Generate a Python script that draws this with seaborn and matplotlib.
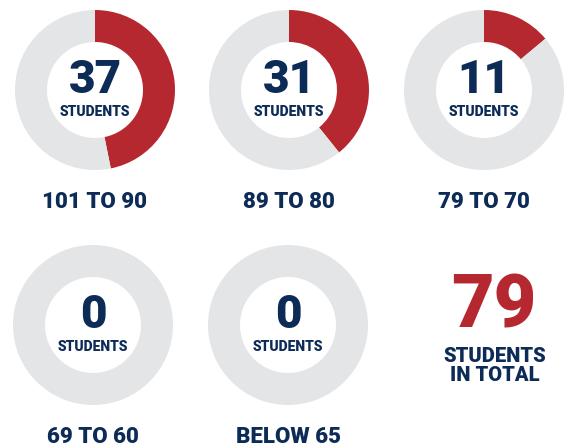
import numpy as np
import seaborn as sns
import matplotlib.pyplot as plt

sns.set_theme(style="white")
plt.rcParams["font.family"] = ["Roboto", "DejaVu Sans"]

# data
score_ranges = ["101 TO 90", "89 TO 80", "79 TO 70", "69 TO 60", "BELOW 65"]
student_counts = [37, 31, 11, 0, 0]
total_students = 79

RED = "#B6282F"
GREY = "#E4E5E7"
NAVY = "#0D2B57"

W, H = 570, 448
fig = plt.figure(figsize=(W / 100, H / 100), dpi=100)
fig.patch.set_facecolor("white")

# donut centres in pixels (x, y from top)
centres = [(95, 90), (289, 90), (484, 90), (93, 325), (288, 325)]
R = 80

for (cx, cy), label, n in zip(centres, score_ranges, student_counts):
    ax = fig.add_axes([(cx - R) / W, (H - cy - R) / H, 2 * R / W, 2 * R / H])
    vals = [n, total_students - n]
    ax.pie(vals, colors=[RED, GREY], startangle=90, counterclock=False,
           wedgeprops={"width": 0.40, "linewidth": 0})
    ax.set_xlim(-1, 1)
    ax.set_ylim(-1, 1)
    ax.set_aspect("equal")
    ax.axis("off")
    ax.text(0, 0.13, str(n), ha="center", va="center", fontsize=33,
            fontweight="black", color=NAVY)
    ax.text(0, -0.28, "STUDENTS", ha="center", va="center", fontsize=10,
            fontweight="black", color=NAVY)
    fig.text(cx / W, 1 - (cy + 112) / H, label, ha="center", va="center",
             fontsize=16, fontweight="black", color=NAVY)

fig.text(494 / W, 1 - 307 / H, str(total_students), ha="center", va="center",
         fontsize=53, fontweight="black", color=RED)
fig.text(495 / W, 1 - 366 / H, "STUDENTS\nIN TOTAL", ha="center", va="center",
         fontsize=14.5, fontweight="black", color=NAVY, linespacing=0.95)

fig.savefig("out.png", dpi=100)
